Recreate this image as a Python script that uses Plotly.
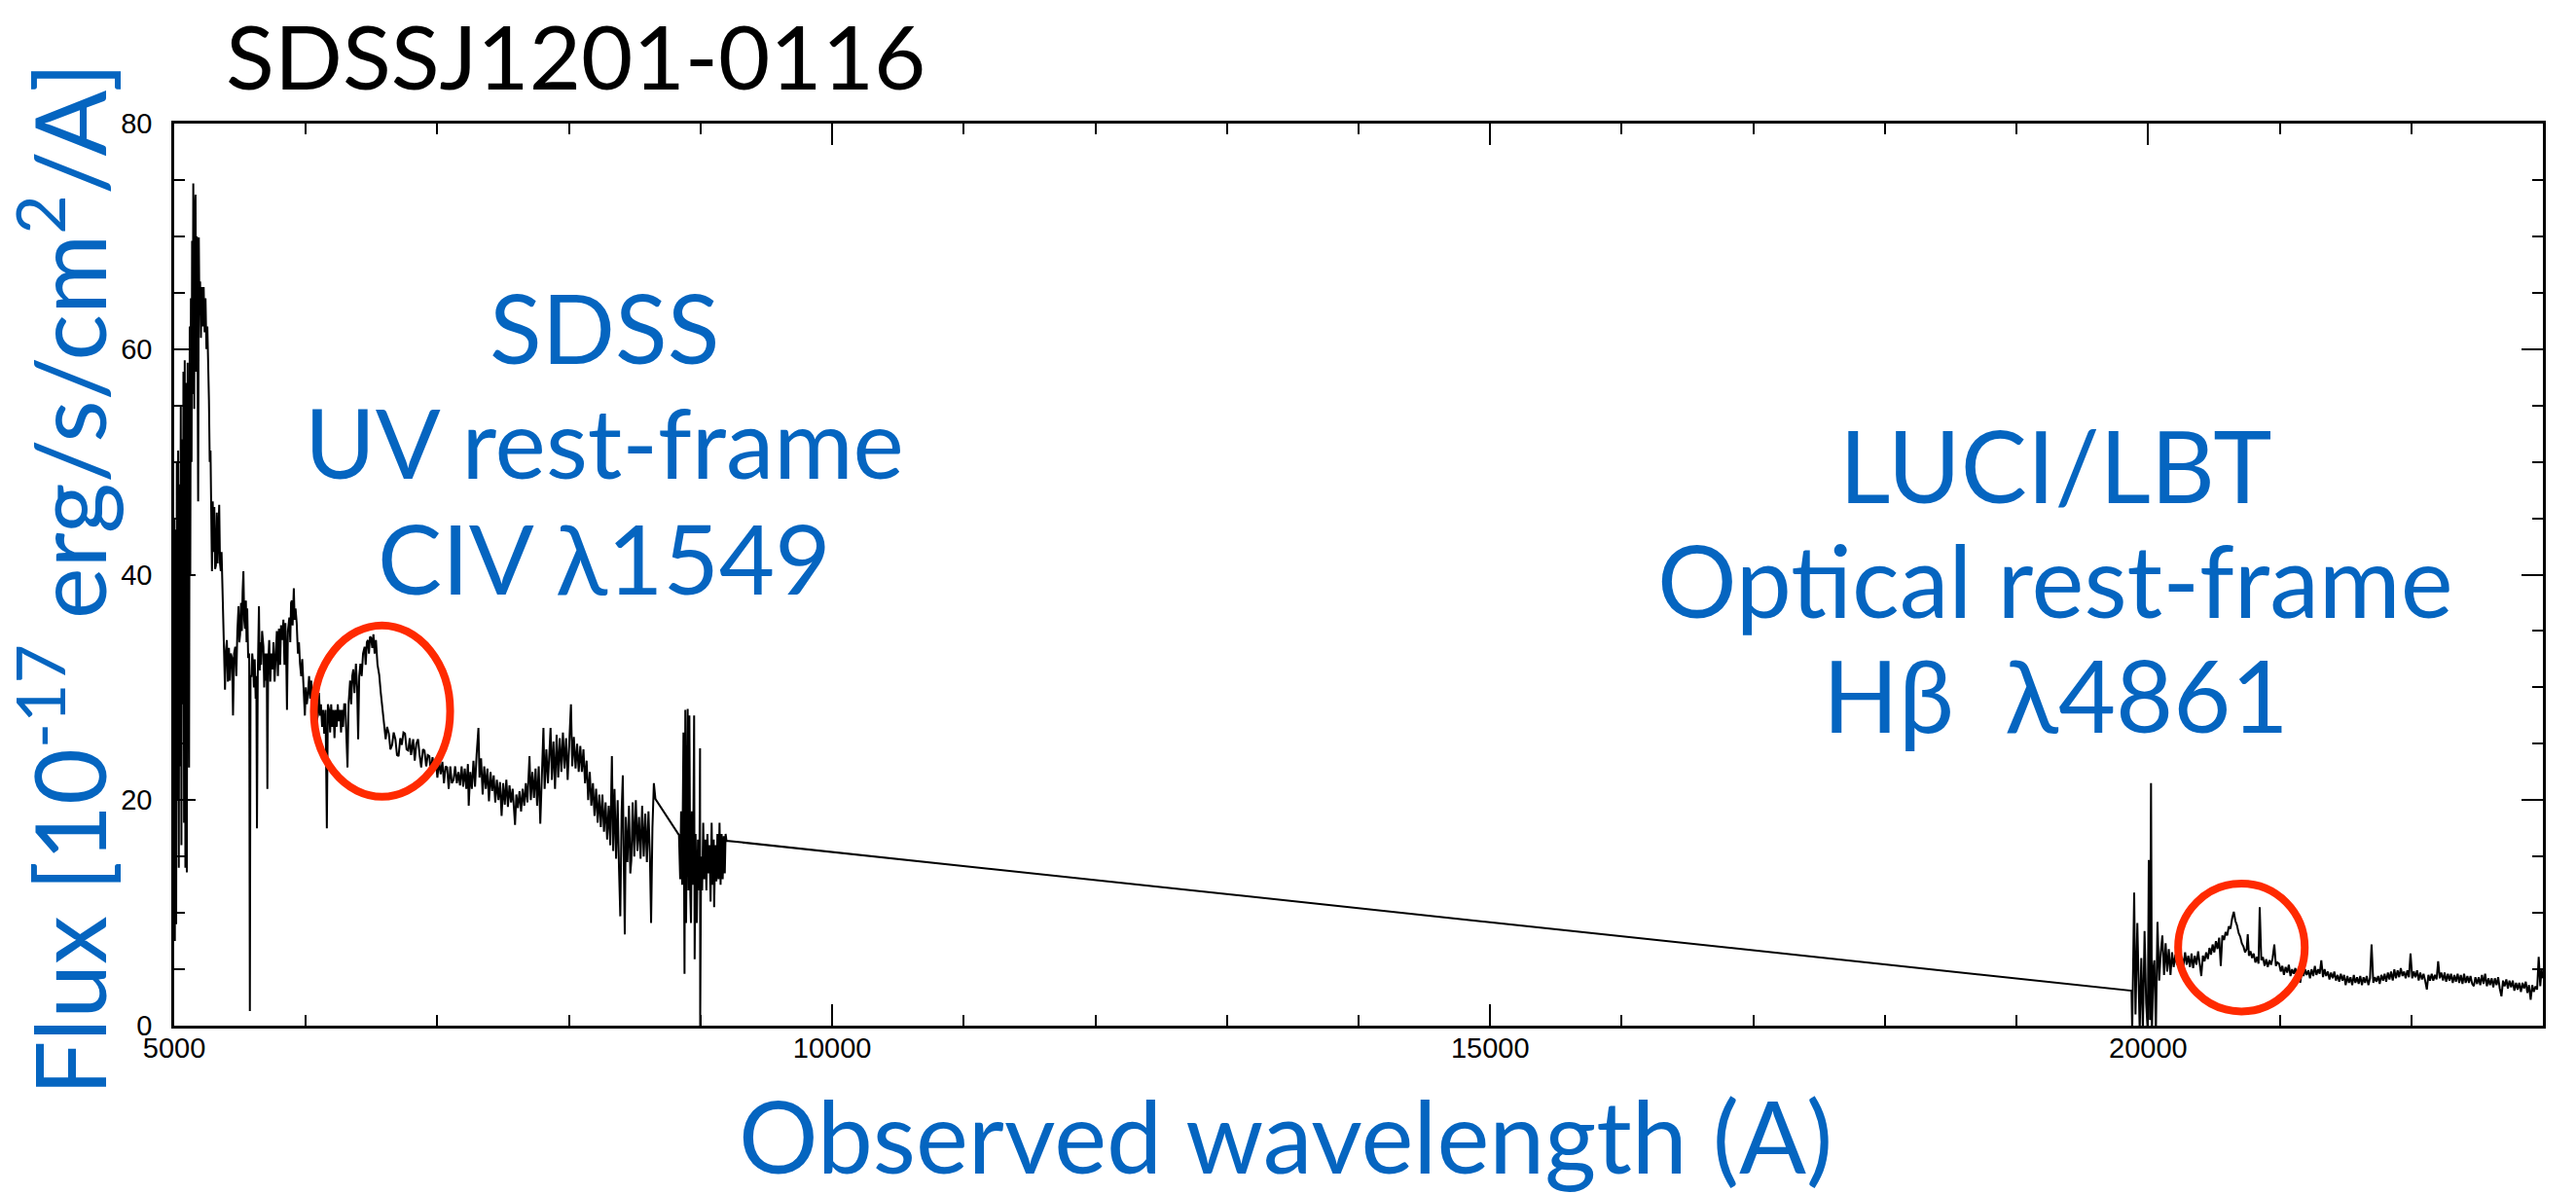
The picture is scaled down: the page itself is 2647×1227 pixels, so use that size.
import plotly.graph_objects as go

# ---------------- data ----------------
sdss_wave = [
    5000, 5005, 5010, 5015, 5020, 5025, 5030, 5035, 5040, 5045, 5050, 5055, 5060, 5065, 5070, 5075,
    5080, 5085, 5090, 5096, 5102, 5108, 5113, 5118, 5122, 5127, 5132, 5136, 5140, 5145, 5150, 5152,
    5157, 5162, 5167, 5172, 5177, 5182, 5187, 5192, 5197, 5203, 5210, 5217, 5224, 5231, 5238, 5245,
    5252, 5258, 5264, 5270, 5276, 5282, 5287, 5293, 5300, 5305, 5311, 5317, 5324, 5330, 5336, 5342,
    5348, 5354, 5360, 5366, 5372, 5378, 5386, 5392, 5400, 5408, 5416, 5423, 5430, 5440, 5447, 5455,
    5464, 5472, 5480, 5489, 5495, 5501, 5508, 5514, 5520, 5526, 5532, 5538, 5545, 5550, 5555, 5562,
    5570, 5575, 5580, 5587, 5593, 5600, 5606, 5612, 5619, 5624, 5629, 5635, 5644, 5650, 5656, 5661,
    5668, 5678, 5684, 5690, 5698, 5703, 5708, 5714, 5722, 5730, 5738, 5747, 5755, 5763, 5771, 5780,
    5788, 5796, 5805, 5812, 5821, 5830, 5838, 5845, 5851, 5857, 5864, 5875, 5882, 5888, 5894, 5900,
    5909, 5915, 5922, 5931, 5940, 5948, 5956, 5965, 5973, 5980, 5987, 5993, 6000, 6008, 6017, 6025,
    6033, 6042, 6050, 6058, 6066, 6075, 6083, 6091, 6100, 6108, 6115, 6124, 6132, 6140, 6150, 6160,
    6168, 6177, 6185, 6193, 6201, 6210, 6218, 6226, 6235, 6243, 6251, 6260, 6268, 6275, 6283, 6292,
    6300, 6308, 6317, 6325, 6337, 6345, 6353, 6361, 6370, 6381, 6390, 6398, 6406, 6415, 6425, 6435,
    6447, 6455, 6464, 6472, 6480, 6488, 6496, 6505, 6514, 6523, 6533, 6545, 6558, 6570, 6582, 6595,
    6607, 6618, 6631, 6643, 6656, 6668, 6681, 6693, 6705, 6718, 6730, 6742, 6754, 6766, 6779, 6790,
    6800, 6816, 6828, 6840, 6853, 6865, 6877, 6890, 6902, 6915, 6927, 6939, 6950, 6963, 6975, 6988,
    7000, 7013, 7025, 7038, 7050, 7062, 7074, 7086, 7098, 7110, 7123, 7135, 7148, 7160, 7172, 7184,
    7196, 7208, 7220, 7232, 7238, 7250, 7262, 7274, 7286, 7298, 7312, 7320, 7332, 7344, 7356, 7368,
    7380, 7392, 7404, 7416, 7428, 7440, 7452, 7464, 7476, 7488, 7500, 7512, 7524, 7536, 7548, 7560,
    7572, 7590, 7600, 7612, 7624, 7636, 7648, 7660, 7672, 7684, 7700, 7710, 7722, 7734, 7746, 7758,
    7770, 7782, 7795, 7806, 7815, 7828, 7840, 7852, 7860, 7870, 7882, 7894, 7906, 7918, 7930, 7942,
    7954, 7966, 7978, 7990, 8002, 8015, 8025, 8037, 8050, 8062, 8074, 8086, 8098, 8110, 8122, 8134,
    8146, 8158, 8170, 8182, 8194, 8206, 8218, 8230, 8242, 8254, 8266, 8278, 8290, 8302, 8314, 8326,
    8336, 8346, 8358, 8370, 8380, 8390, 8400, 8409, 8416, 8424, 8432, 8444, 8456, 8466, 8474, 8484,
    8496, 8508, 8520, 8532, 8544, 8556, 8568, 8580, 8592, 8604, 8615, 8624, 8634, 8645, 8657, 8836,
    8845, 8852, 8860, 8870, 8878, 8884, 8890, 8896, 8902, 8908, 8915, 8922, 8927, 8934, 8942, 8951,
    8955, 8962, 8971, 8980, 8990, 8996, 8997, 9004, 9012, 9020, 9028, 9036, 9044, 9052, 9060, 9068,
    9076, 9084, 9092, 9100, 9103, 9112, 9120, 9128, 9136, 9144, 9152, 9160, 9168, 9176, 9184, 9190,
    9197,
]
sdss_flux = [
    45.0, 7.5, 44.0, 9.0, 50.0, 20.0, 51.0, 14.0, 48.0, 23.0, 55.0, 16.0, 52.0, 28.5, 58.0, 18.0,
    59.0, 14.0, 57.0, 13.6, 58.8, 25.0, 22.9, 62.0, 40.0, 64.5, 50.0, 69.6, 56.0, 74.7, 60.0, 54.7,
    72.0, 73.7, 58.0, 70.0, 60.3, 46.5, 69.9, 63.0, 66.0, 61.0, 65.5, 62.0, 65.5, 61.5, 64.5, 60.0,
    62.0, 56.0, 55.5, 50.0, 51.0, 45.0, 40.3, 46.5, 42.0, 46.0, 40.5, 40.8, 45.5, 41.0, 45.0, 46.2,
    41.0, 40.3, 42.0, 38.8, 34.0, 33.6, 29.8, 33.0, 34.2, 30.5, 33.5, 30.6, 33.0, 32.6, 27.5, 33.0,
    33.6, 31.0, 35.0, 37.2, 34.0, 34.7, 37.5, 35.0, 38.5, 40.3, 36.0, 35.2, 37.7, 34.0, 37.0, 32.6,
    33.0, 1.3, 31.0, 31.0, 33.0, 32.0, 30.0, 32.5, 29.0, 31.0, 17.5, 31.0, 37.2, 31.5, 34.0, 32.0,
    35.0, 33.6, 30.0, 33.0, 30.6, 33.0, 21.0, 32.0, 34.2, 30.5, 33.0, 31.6, 34.0, 30.5, 32.6, 35.0,
    31.0, 35.2, 32.0, 35.5, 34.2, 36.0, 32.0, 35.7, 33.0, 28.0, 35.0, 36.2, 34.0, 37.5, 37.7, 35.5,
    38.8, 36.0, 37.0, 35.7, 33.0, 34.0, 32.1, 31.0, 32.5, 30.6, 29.0, 27.5, 30.0, 28.5, 29.5, 31.0,
    29.0, 30.6, 28.0, 30.0, 28.5, 29.5, 27.0, 27.5, 29.5, 27.5, 28.5, 26.5, 28.0, 25.9, 28.0, 17.5,
    28.5, 28.0, 26.0, 28.5, 26.5, 28.0, 25.5, 28.0, 26.5, 28.5, 27.0, 28.0, 26.0, 28.0, 26.5, 28.5,
    28.5, 26.0, 22.9, 28.5, 30.6, 28.5, 31.0, 31.6, 29.5, 32.1, 30.0, 25.4, 31.0, 32.1, 31.0, 33.0,
    33.6, 32.0, 34.0, 34.2, 33.0, 34.5, 34.4, 33.5, 34.7, 33.0, 34.2, 32.0, 31.1, 29.5, 28.0, 26.5,
    25.4, 26.5, 25.9, 24.5, 24.9, 26.0, 25.4, 24.0, 23.9, 25.5, 24.9, 26.0, 25.9, 24.5, 24.4, 25.5,
    24.0, 25.4, 23.5, 25.0, 25.4, 24.0, 22.9, 24.5, 24.4, 23.0, 24.0, 23.9, 22.5, 23.8, 22.9, 23.5,
    22.0, 23.5, 22.3, 23.4, 21.5, 23.0, 22.9, 21.0, 23.0, 21.5, 21.8, 23.0, 21.5, 22.5, 21.3, 23.0,
    21.2, 22.8, 21.0, 23.2, 19.5, 22.5, 21.0, 23.5, 21.2, 24.0, 26.4, 22.0, 23.7, 20.5, 23.0, 21.0,
    22.8, 19.9, 22.5, 20.8, 22.2, 19.8, 21.8, 20.0, 21.6, 18.6, 21.5, 19.6, 21.8, 19.4, 21.3, 19.8,
    21.0, 17.8, 20.5, 19.3, 20.8, 19.0, 21.0, 19.5, 21.5, 19.8, 23.9, 20.0, 22.5, 20.2, 22.8, 19.5,
    23.0, 17.9, 22.5, 26.4, 21.0, 24.5, 21.5, 25.0, 26.4, 21.8, 25.2, 21.0, 25.8, 22.0, 25.5, 22.5,
    26.0, 22.8, 25.5, 21.8, 25.8, 28.5, 23.0, 25.6, 22.8, 25.0, 22.5, 24.8, 22.5, 24.5, 21.5, 23.5,
    20.0, 22.5, 19.5, 21.5, 18.6, 21.0, 18.0, 20.5, 17.6, 20.5, 17.2, 19.8, 16.5, 19.5, 16.0, 23.9,
    15.5, 21.0, 14.8, 20.0, 14.0, 9.7, 19.0, 22.2, 15.0, 8.1, 18.5, 14.5, 19.5, 13.5, 14.7, 19.8,
    15.0, 20.0, 15.5, 18.5, 14.8, 19.5, 15.0, 18.8, 14.5, 19.0, 15.0, 9.1, 17.5, 21.5, 20.1, 16.9,
    13.0, 19.0, 12.5, 26.0, 4.6, 28.0, 9.1, 18.5, 28.1, 12.0, 27.5, 11.5, 9.1, 19.0, 12.5, 27.5,
    5.9, 17.0, 9.1, 16.5, 12.0, 24.6, 0.0, 15.0, 12.0, 18.0, 13.0, 16.5, 12.0, 17.0, 13.5, 16.0,
    11.0, 18.0, 12.5, 16.5, 10.5, 16.0, 12.8, 17.0, 13.0, 18.0, 12.5, 17.0, 13.0, 16.8, 13.5, 17.0,
    16.4,
]

# LUCI/LBT: noisy start and H-beta region
luci_head_wave = [
    19874, 19879, 19894, 19904, 19918, 19936, 19948, 19960, 19973, 19985, 19997, 20005, 20014, 20022,
    20029, 20039, 20047, 20059, 20071, 20084, 20096, 20108, 20121, 20133, 20145, 20157, 20170, 20182,
    20194, 20207, 20219, 20231, 20244, 20256, 20268, 20281, 20293, 20305, 20318, 20330, 20342, 20355,
    20367, 20380, 20392, 20404, 20416, 20429, 20441, 20454, 20466, 20478, 20490, 20503, 20515, 20527,
    20540, 20552, 20564, 20577, 20589, 20601, 20613, 20626, 20638, 20651, 20663, 20675, 20688, 20700,
    20712, 20725, 20737, 20749, 20757, 20766, 20778, 20790, 20802, 20815, 20827, 20839, 20848, 20860,
    20872, 20885, 20897, 20909, 20922, 20934, 20946, 20959, 20971, 20983,
]
luci_head_flux = [
    3.1, -0.5, 11.8, 1.0, 9.1, -0.5, 6.0, -0.5, 8.4, 2.0, -0.5, 14.7, 0.5, 21.5,
    -0.5, 5.0, 5.8, -0.5, 9.2, 4.0, 6.5, 8.0, 4.5, 7.3, 4.8, 6.8, 4.5, 6.5,
    5.2, 6.3, 5.4, 6.4, 5.0, 6.1, 5.3, 6.5, 5.4, 6.2, 5.2, 6.4, 5.1, 6.2,
    5.4, 6.6, 5.5, 4.4, 6.2, 5.7, 6.5, 5.9, 6.9, 6.3, 7.2, 6.5, 7.5, 6.8,
    7.8, 5.3, 8.0, 7.6, 8.3, 8.0, 8.8, 8.6, 9.5, 10.1, 9.3, 8.9, 8.2, 7.9,
    7.3, 7.0, 6.5, 6.8, 8.1, 6.2, 6.6, 6.0, 6.4, 5.6, 6.1, 5.5, 10.5, 5.8,
    6.1, 5.3, 5.9, 5.2, 5.8, 5.4, 6.0, 7.2, 5.3, 5.6,
]
# LUCI/LBT: continuum tail
luci_tail_wave = [
    20995, 21008, 21020, 21032, 21045, 21057, 21069, 21082, 21094, 21106,
    21119, 21131, 21143, 21156, 21168, 21181, 21193, 21205, 21218, 21230,
    21242, 21255, 21267, 21279, 21292, 21304, 21316, 21329, 21341, 21353,
    21366, 21378, 21390, 21403, 21415, 21427, 21440, 21452, 21464, 21477,
    21489, 21501, 21514, 21526, 21538, 21551, 21563, 21575, 21588, 21600,
    21612, 21625, 21637, 21649, 21661, 21674, 21686, 21698, 21711, 21723,
    21735, 21748, 21760, 21772, 21785, 21797, 21809, 21822, 21834, 21846,
    21859, 21871, 21883, 21896, 21908, 21920, 21933, 21945, 21957, 21970,
    21982, 21994, 22007, 22019, 22031, 22044, 22056, 22068, 22081, 22093,
    22105, 22118, 22130, 22142, 22155, 22167, 22179, 22192, 22204, 22216,
    22228, 22241, 22253, 22265, 22278, 22290, 22302, 22315, 22327, 22339,
    22352, 22364, 22376, 22389, 22401, 22413, 22426, 22438, 22450, 22463,
    22475, 22487, 22500, 22512, 22524, 22537, 22549, 22561, 22574, 22586,
    22598, 22611, 22623, 22635, 22648, 22660, 22672, 22685, 22697, 22709,
    22722, 22734, 22746, 22759, 22771, 22783, 22796, 22808, 22820, 22833,
    22845, 22857, 22870, 22882, 22894, 22907, 22919, 22931, 22944, 22956,
    22968, 22980, 22990, 22998,
]
luci_tail_flux = [
    5.5, 4.8, 5.3, 4.5, 5.2, 4.7, 5.4, 4.4, 5.0, 4.6,
    5.1, 4.3, 4.9, 3.8, 4.8, 4.4, 5.0, 4.5, 4.9, 4.2,
    5.0, 4.4, 5.3, 4.5, 5.0, 4.6, 5.8, 4.3, 5.0, 4.4,
    4.8, 4.1, 4.7, 4.2, 4.8, 4.0, 4.5, 3.9, 4.6, 4.0,
    4.5, 3.6, 4.4, 3.8, 4.3, 3.6, 4.5, 3.8, 4.3, 3.7,
    4.4, 3.6, 4.3, 3.8, 4.4, 3.6, 4.2, 7.2, 3.8, 4.3,
    3.9, 4.4, 3.7, 4.5, 4.0, 4.6, 3.9, 4.7, 4.1, 4.8,
    4.0, 5.0, 4.2, 4.9, 4.3, 5.1, 4.4, 4.8, 4.2, 4.9,
    4.3, 6.4, 4.2, 4.8, 4.3, 4.9, 4.0, 4.7, 4.1, 4.6,
    4.0, 3.2, 4.5, 4.0, 4.6, 4.0, 4.5, 4.1, 5.7, 4.2,
    4.7, 4.0, 4.7, 3.9, 4.6, 4.0, 4.6, 3.8, 4.5, 3.9,
    4.6, 3.8, 4.5, 3.7, 4.6, 3.8, 4.4, 3.8, 4.4, 3.7,
    3.5, 4.3, 3.7, 4.3, 3.6, 4.5, 3.7, 4.6, 3.5, 4.2,
    3.6, 4.2, 3.4, 4.2, 3.6, 4.3, 3.3, 2.6, 4.0, 3.5,
    4.1, 3.3, 4.0, 3.4, 4.0, 3.1, 3.8, 3.2, 3.8, 3.0,
    3.8, 3.3, 3.9, 2.9, 3.6, 2.3, 3.6, 3.0, 3.5, 3.2,
    6.1, 3.5, 5.0, 4.2,
]

title_text = "SDSSJ1201-0116"
y_title = "Flux [10<sup>-17</sup> erg/s/cm<sup>2</sup>/A]"
x_title = "Observed wavelength (A)"
left_lines = ["SDSS", "UV rest-frame", "CIV λ1549"]
right_lines = ["LUCI/LBT", "Optical rest-frame", "Hβ  λ4861"]

# ---------------- figure ----------------
W, H = 2647, 1227
ML, MR, MT, MB = 179, 34, 127, 173
BLUE = "#0565C0"
RED = "#FF2A00"

wave = sdss_wave + luci_head_wave + luci_tail_wave
flux = sdss_flux + luci_head_flux + luci_tail_flux

fig = go.Figure()
fig.add_trace(go.Scatter(x=wave, y=flux, mode="lines",
                         line=dict(color="black", width=2), hoverinfo="skip",
                         showlegend=False))

axis_common = dict(showline=True, linecolor="black", linewidth=2.5, mirror="allticks",
                   ticks="inside", ticklen=22, tickwidth=2, tickcolor="black",
                   showgrid=False, zeroline=False, tickformat="d",
                   tickfont=dict(family="Liberation Sans, Arial, sans-serif", size=29, color="black"))

fig.update_xaxes(range=[5000, 23000], tick0=5000, dtick=5000, ticklabelstandoff=-5,
                 minor=dict(ticks="inside", ticklen=11, tickwidth=2, tickcolor="black", dtick=1000),
                 **axis_common)
fig.update_yaxes(range=[0, 80], tick0=0, dtick=20, ticklabelstandoff=14,
                 minor=dict(ticks="inside", ticklen=11, tickwidth=2, tickcolor="black", dtick=5),
                 **axis_common)

pw = W - ML - MR
ph = H - MT - MB

def px_to_paper(px, py):
    return (px - ML) / pw, (H - MB - py) / ph

ann = []
tx, ty = px_to_paper(230, 56)
ann.append(dict(text=title_text, x=tx, y=ty, xanchor="left", yanchor="middle",
                font=dict(family="Lato", size=92, color="black")))
yx, yy = px_to_paper(64, 595)
ann.append(dict(text=y_title, x=yx, y=yy, textangle=-90, xanchor="center", yanchor="middle",
                font=dict(family="Lato", size=100, color=BLUE)))
xx, xy = px_to_paper(1321, 1166)
ann.append(dict(text=x_title, x=xx, y=xy, xanchor="center", yanchor="middle",
                font=dict(family="Lato", size=102, color=BLUE)))

for line, cy in zip(left_lines, [335, 453, 572]):
    ax_, ay_ = px_to_paper(621, cy)
    ann.append(dict(text=line, x=ax_, y=ay_, xanchor="center", yanchor="middle",
                    font=dict(family="Lato", size=99, color=BLUE)))
for line, cy in zip(right_lines, [477, 595, 713]):
    ax_, ay_ = px_to_paper(2112, cy)
    ann.append(dict(text=line, x=ax_, y=ay_, xanchor="center", yanchor="middle",
                    font=dict(family="Lato", size=102, color=BLUE)))

for a in ann:
    a.update(xref="paper", yref="paper", showarrow=False)

shapes = [
    dict(type="circle", xref="x", yref="y", x0=6061, x1=7097, y0=20.3, y1=35.5,
         line=dict(color=RED, width=8)),
    dict(type="circle", xref="x", yref="y", x0=20228, x1=21190, y0=1.26, y1=12.6,
         line=dict(color=RED, width=8)),
]

fig.update_layout(width=W, height=H, autosize=False,
                  margin=dict(l=ML, r=MR, t=MT, b=MB, pad=0),
                  paper_bgcolor="white", plot_bgcolor="white",
                  annotations=ann, shapes=shapes, showlegend=False)

fig.write_html("out.html", include_plotlyjs=True, config={"displayModeBar": False},
               post_script="document.body.style.margin='0';document.body.style.overflow='hidden';")
